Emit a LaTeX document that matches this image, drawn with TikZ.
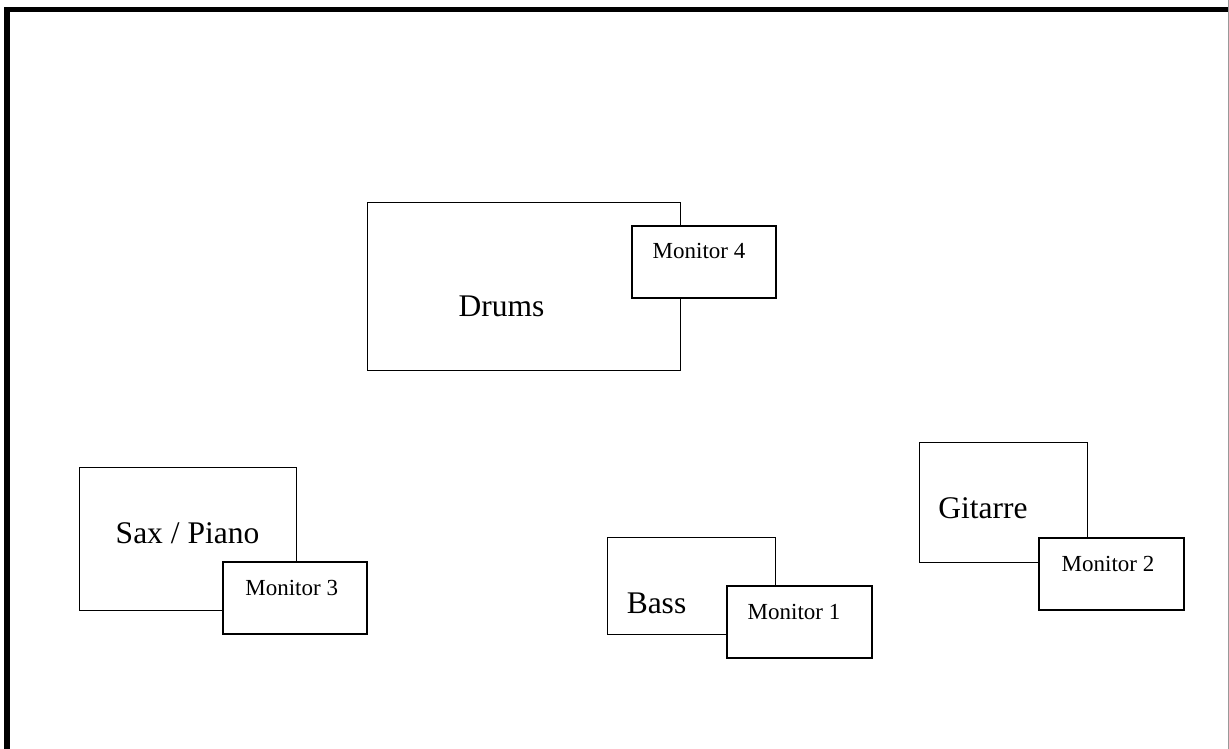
\documentclass[tikz,border=0pt]{standalone}
\usepackage{fontspec}
\setmainfont{Liberation Serif}
\begin{document}
\begin{tikzpicture}[x=1pt,y=-1pt,
  areabox/.style={draw=black,line width=1pt,fill=white,inner sep=0pt},
  monbox/.style={draw=black,line width=2pt,fill=white,inner sep=0pt},
  biglabel/.style={anchor=base,inner sep=0pt,font=\fontsize{31.5}{32}\selectfont},
  monlabel/.style={anchor=base,inner sep=0pt,font=\fontsize{23}{24}\selectfont}]
\useasboundingbox (0,0) rectangle (1229,749);
\clip (0,0) rectangle (1229,749);
% frame
\draw[line width=5.5pt] (7,760) -- (7,9.5) -- (1240,9.5);
\draw[line width=1pt,black!40] (1228.5,0) -- (1228.5,749);
% Drums
\node[areabox,minimum width=313pt,minimum height=168pt] (drums) at (523.5,286) {};
\node[monbox,minimum width=144pt,minimum height=72pt] (mon4) at (704,262) {};
\node[biglabel] (drumstxt) at (501.5,316.5) {Drums};
\node[monlabel] (mon4txt) at (699,258) {Monitor 4};
% Sax / Piano
\node[areabox,minimum width=217pt,minimum height=143pt] (sax) at (187.5,538.5) {};
\node[monbox,minimum width=144pt,minimum height=72pt] (mon3) at (295,598) {};
\node[biglabel] (saxtxt) at (187.5,543) {Sax / Piano};
\node[monlabel] (mon3txt) at (291.7,595) {Monitor 3};
% Bass
\node[areabox,minimum width=168pt,minimum height=97pt] (bass) at (691,585.5) {};
\node[monbox,minimum width=145pt,minimum height=72pt] (mon1) at (799.5,622) {};
\node[biglabel] (basstxt) at (656.5,613) {Bass};
\node[monlabel] (mon1txt) at (794,619) {Monitor 1};
% Gitarre
\node[areabox,minimum width=168pt,minimum height=120pt] (git) at (1003,502) {};
\node[monbox,minimum width=145pt,minimum height=72pt] (mon2) at (1111.5,574) {};
\node[biglabel] (gittxt) at (983,518) {Gitarre};
\node[monlabel] (mon2txt) at (1108,571) {Monitor 2};
\end{tikzpicture}
\end{document}
